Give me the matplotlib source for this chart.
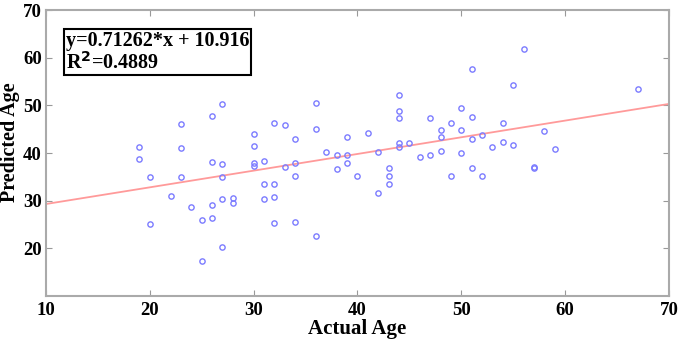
import numpy as np
import matplotlib.pyplot as plt

# actual / predicted ages
actual = [19, 19, 20, 20, 22, 23, 23, 23, 24, 25, 25, 26, 26, 26, 26, 27, 27, 27, 27, 27,
          28, 28, 30, 30, 30, 30, 31, 31, 31, 32, 32, 32, 32, 33, 33, 34, 34, 34, 34,
          36, 36, 36, 37, 38, 38, 39, 39, 39, 40, 41, 42, 42, 43, 43, 43,
          44, 44, 44, 44, 44, 45, 46, 47, 47, 48, 48, 48, 49, 49, 50, 50, 50,
          51, 51, 51, 51, 52, 52, 53, 54, 54, 55, 55, 56, 57, 57, 58, 59, 67]
predicted = [41.2, 38.7, 35.0, 25.2, 31.0, 46.0, 41.0, 35.0, 28.7, 25.9, 17.4, 47.7, 38.2, 29.1, 26.3,
             50.3, 37.6, 35.0, 30.3, 20.3, 30.5, 29.6, 43.9, 41.4, 38.0, 37.3, 38.4, 33.5, 30.3,
             46.3, 33.5, 30.8, 25.4, 45.8, 37.1, 42.9, 38.0, 35.2, 25.5, 50.5, 45.1, 22.5,
             40.2, 39.5, 36.6, 43.3, 39.5, 38.0, 35.2, 44.2, 40.3, 31.6, 36.8, 35.2, 33.6,
             52.2, 48.8, 47.4, 42.0, 41.3, 42.0, 39.2, 47.3, 39.6, 44.8, 43.3, 40.5, 46.3, 35.2,
             49.5, 44.9, 40.1, 57.6, 47.6, 42.9, 36.8, 43.8, 35.2, 41.2, 46.3, 42.3, 54.2, 41.6,
             61.9, 37.1, 36.8, 44.6, 40.8, 53.4]

fit_x = [10, 70]
fit_y = [29.3, 50.3]

xticks = [10, 20, 30, 40, 50, 60, 70]
yticks = [20, 30, 40, 50, 60, 70]

plt.rcParams['font.family'] = ['Liberation Serif', 'DejaVu Serif']
plt.rcParams['font.weight'] = 'bold'

fig = plt.figure(figsize=(6.83, 3.45), dpi=100)
ax = fig.add_axes([0.0673, 0.142, 0.9122, 0.829])

ax.plot(fit_x, fit_y, color='#ff9a9a', lw=1.3, zorder=2)
ax.plot(actual, predicted, 'o', ms=3.8, mfc='none', mec='#7c7cff', mew=1.0, zorder=3)

ax.set_xlim(10, 70)
ax.set_ylim(10, 70)
ax.set_xticks(xticks)
ax.set_yticks(yticks)
ax.tick_params(direction='in', length=4, color='#999999', labelsize=13.5,
               top=True, right=True, pad=4)
ax.tick_params(axis='y', pad=3)
for lab in ax.get_xticklabels() + ax.get_yticklabels():
    lab.set_fontweight('bold')
for s in ax.spines.values():
    s.set_color('#aaaaaa')
    s.set_linewidth(1.5)

ax.set_xlabel('Actual Age', fontsize=15, fontweight='bold', labelpad=0)
ax.set_ylabel('Predicted Age', fontsize=14.5, fontweight='bold')
ax.yaxis.set_label_coords(-0.041, 0.538)

ax.text(0.032, 0.925, 'y=0.71262*x + 10.916\nR$^{2}$=0.4889', transform=ax.transAxes,
        fontsize=14.5, fontweight='bold', va='top', ha='left', linespacing=1.0,
        bbox=dict(boxstyle='square,pad=0.1', fc='white', ec='black', lw=1.5))

fig.savefig('out.png', dpi=100)
